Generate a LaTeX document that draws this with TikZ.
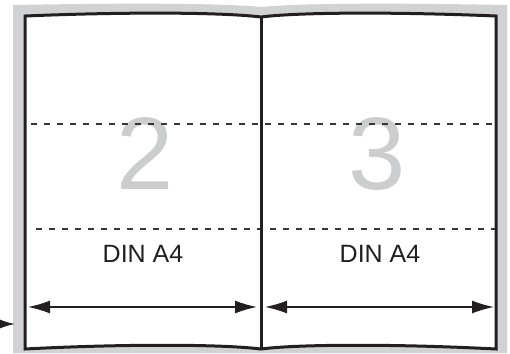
\documentclass[tikz,border=0pt]{standalone}
\usepackage{fontspec}
\setmainfont{Liberation Sans}
\usetikzlibrary{arrows.meta,positioning}
\definecolor{covergray}{RGB}{209,210,212}
\definecolor{numgray}{RGB}{204,205,207}
\definecolor{linegray}{RGB}{35,31,32}

\tikzset{
  pageedge/.style={draw=linegray,line width=3pt,line join=miter},
  foldline/.style={draw=linegray!90,line width=1.4pt,dash pattern=on 6pt off 7pt},
  pagenum/.style={text=numgray,font=\fontsize{103}{103}\selectfont,inner sep=0pt},
  formatlabel/.style={text=linegray,font=\fontsize{25}{25}\selectfont,inner sep=0pt},
  widtharrow/.style={draw=linegray,line width=1.5pt,
    {Latex[length=22pt,width=13pt]}-{Latex[length=22pt,width=13pt]}},
  pointer/.style={draw=linegray,line width=1.5pt,-{Latex[length=15pt,width=9pt]}}
}

\begin{document}
\begin{tikzpicture}[x=1pt,y=-1pt]
  \useasboundingbox (0,0) rectangle (510,353);

  % cover behind the pages
  \fill[covergray] (13,5) .. controls (120,3) and (220,3) .. (261,7)
    .. controls (300,3) and (400,3) .. (507,5) -- (507,353) -- (13,353) -- cycle;

  % corners of the two pages
  \coordinate (tl) at (25,16);
  \coordinate (tm) at (261,17);
  \coordinate (tr) at (496,16);
  \coordinate (bl) at (25,349);
  \coordinate (bm) at (261,349);
  \coordinate (br) at (496,349);

  \fill[white] (tl) .. controls (120,12) and (220,12) .. (tm)
    .. controls (300,12) and (400,12) .. (tr) -- (br)
    .. controls (400,344) and (300,344) .. (bm)
    .. controls (220,344) and (120,344) .. (bl) -- cycle;

  % page numbers
  \node[pagenum] (num2) at (145,154) {2};
  \node[pagenum] (num3) at (377,154) {3};

  % fold lines
  \coordinate (fa) at (31,124);
  \coordinate (fb) at (496,124);
  \coordinate (fc) at (36,229);
  \coordinate (fd) at (496,229);
  \draw[foldline] (fa) -- (fb);
  \draw[foldline] (fc) -- (fd);

  % page outline
  \draw[pageedge] (tl) .. controls (120,12) and (220,12) .. (tm)
    .. controls (300,12) and (400,12) .. (tr) -- (br)
    .. controls (400,344) and (300,344) .. (bm)
    .. controls (220,344) and (120,344) .. (bl) -- cycle;
  \draw[pageedge] (tm) -- (bm);

  % format labels
  \node[formatlabel] (lblA) at (143,254) {DIN A4};
  \node[formatlabel] (lblB) at (380,254) {DIN A4};

  % width arrows
  \coordinate (la) at (28,307);
  \coordinate (lb) at (257,307);
  \coordinate (ra) at (265,307);
  \coordinate (rb) at (494,307);
  \draw[widtharrow] (la) -- (lb);
  \draw[widtharrow] (ra) -- (rb);

  % pointer at the left edge
  \coordinate (pa) at (-2,324);
  \coordinate (pb) at (15,324);
  \draw[pointer] (pa) -- (pb);
\end{tikzpicture}
\end{document}
